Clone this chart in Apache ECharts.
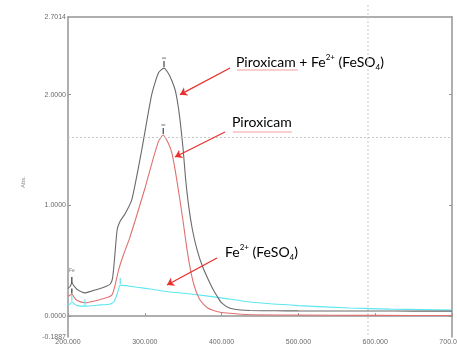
<!DOCTYPE html>
<html><head><meta charset="utf-8">
<script src="https://cdn.jsdelivr.net/npm/echarts@6/dist/echarts.min.js"></script>
<style>html,body{margin:0;padding:0;background:#fff}#c{width:457px;height:350px}</style>
</head><body><div id="c"></div>
<script>
// Wavelength (nm) / absorbance data
const wlMix = [200,203,205,208,212,222,230,240,250,255,258,261,264,268,274,283,296,309,318,325,330,335,340,345,350,353,357,362,368,375,382,389,395,400,411,425,437,470,500,550,600,650,700];
const absMix = [0.25,0.27,0.30,0.27,0.24,0.21,0.225,0.245,0.27,0.29,0.34,0.55,0.78,0.86,0.92,1.05,1.5,2.0,2.2,2.24,2.2,2.13,2.03,1.82,1.5,1.25,1.0,0.78,0.6,0.45,0.34,0.24,0.17,0.12,0.07,0.055,0.05,0.048,0.047,0.046,0.046,0.045,0.045];
const wlPir = [200,203,205,208,212,222,230,240,250,255,258,262,266,272,280,290,300,310,318,324,330,335,340,345,350,355,360,365,372,382,395,407,430,500,600,700];
const absPir = [0.18,0.19,0.20,0.17,0.14,0.12,0.13,0.145,0.165,0.18,0.2,0.3,0.42,0.55,0.7,0.92,1.15,1.4,1.58,1.636,1.57,1.48,1.3,1.08,0.85,0.6,0.4,0.26,0.145,0.073,0.04,0.028,0.015,0.01,0.007,0.005];
const wlFe = [200,203,205,208,212,222,240,255,260,264,268,275,290,307,330,360,400,437,500,567,620,700];
const absFe = [0.10,0.11,0.13,0.11,0.095,0.09,0.10,0.11,0.13,0.2,0.28,0.275,0.26,0.245,0.22,0.2,0.165,0.127,0.095,0.073,0.063,0.054];

const yMin = -0.1887, yMax = 2.7014;
const yTickLabels = [-0.1887, 0, 1, 2, 2.7014];
const yTicks = [0, 1, 2];
const xMin = 200, xMax = 700, xStep = 100;

// peak markers [wavelength, absorbance]
const peakMix = [325, 2.24];
const peakPir = [324, 1.636];
const smallPeaks = [[205, 0.30], [205, 0.20]];
const fePeaks = [[205, 0.13], [222, 0.09], [268, 0.28]];
const crossX = 590.6, crossY = 1.6176;

// arrows [tail, head]
const arrows = [
  [[411, 2.241], [345.8, 2.0]],
  [[404.4, 1.663], [339.3, 1.437]],
  [[394, 0.525], [328.9, 0.281]]
];

const zip = (a, b) => a.map((v, i) => [v, b[i]]);
const chart = echarts.init(document.getElementById('c'), null, {renderer: 'canvas'});
const axisCol = '#959595';
const lblStyle = {color: '#6a6a6a', fontSize: 7, fontFamily: 'Liberation Sans'};

function tickMarks(pts, color, h, off, barW) {
  const out = [];
  pts.forEach(p => {
    out.push({coord: p, symbol: 'rect', symbolSize: [1.2, h], symbolOffset: [0, -off], itemStyle: {color: color}});
    if (barW) out.push({coord: p, symbol: 'rect', symbolSize: [barW, 1.2], symbolOffset: [0, -off - h / 2 - 3], itemStyle: {color: '#888'}});
  });
  return out;
}

const annotFont = 'Lato';
const rich = {
  n: {fontSize: 14, fontFamily: annotFont, color: '#1a1a1a', lineHeight: 18},
  sup: {fontSize: 8, fontFamily: annotFont, color: '#1a1a1a', lineHeight: 8, verticalAlign: 'top'},
  sub: {fontSize: 8, fontFamily: annotFont, color: '#1a1a1a', lineHeight: 8, verticalAlign: 'bottom'}
};

chart.setOption({
  animation: false,
  grid: {left: 68, right: 5, top: 17, bottom: 13, outerBoundsMode: 'none', containLabel: false},
  xAxis: [{
    type: 'value', min: xMin, max: xMax, interval: xStep,
    name: 'nm', nameLocation: 'middle', nameGap: 16, nameTextStyle: {color: '#888', fontSize: 6},
    axisLine: {lineStyle: {color: axisCol, width: 1.5}},
    axisTick: {inside: true, length: 3, lineStyle: {color: axisCol}},
    axisLabel: Object.assign({margin: 2, formatter: v => v.toFixed(3)}, lblStyle),
    splitLine: {show: false}
  }, {
    type: 'value', position: 'top', min: xMin, max: xMax,
    axisLine: {show: true, onZero: false, lineStyle: {color: axisCol, width: 1.5}},
    axisTick: {show: false}, axisLabel: {show: false}, splitLine: {show: false}
  }],
  yAxis: [{
    type: 'value', min: yMin, max: yMax,
    name: 'Abs.', nameLocation: 'middle', nameGap: 42, nameRotate: 90,
    nameTextStyle: {color: '#888', fontSize: 6, padding: [0, 10, 0, 0]},
    axisLine: {show: true, onZero: false, lineStyle: {color: axisCol, width: 1.5}},
    axisTick: {show: true, inside: true, length: 3, customValues: yTicks, lineStyle: {color: axisCol}},
    axisLabel: Object.assign({margin: 2, customValues: yTickLabels, formatter: v => v.toFixed(4)}, lblStyle),
    splitLine: {show: false}
  }, {
    type: 'value', position: 'right', min: yMin, max: yMax,
    axisLine: {show: true, onZero: false, lineStyle: {color: axisCol, width: 1.5}},
    axisTick: {show: true, inside: true, length: 3, customValues: yTicks, lineStyle: {color: axisCol}},
    axisLabel: {show: false}, splitLine: {show: false}
  }],
  series: [{
    name: 'Fe2+ (FeSO4)', type: 'line', data: zip(wlFe, absFe), showSymbol: false, smooth: 0.15,
    lineStyle: {color: '#5ee6f0', width: 1.1}, z: 2,
    markPoint: {silent: true, label: {show: false}, data: tickMarks(fePeaks, '#5ee6f0', 6, 4, 0)},
    markLine: {
      silent: true, symbol: 'none', label: {show: false},
      lineStyle: {color: '#c8c8c8', type: [2, 2], width: 1},
      data: [[{coord: [xMin, crossY]}, {coord: [xMax, crossY]}]]
    }
  }, {
    name: 'Piroxicam', type: 'line', data: zip(wlPir, absPir), showSymbol: false, smooth: 0.2,
    lineStyle: {color: '#e07070', width: 1.1}, z: 3,
    markPoint: {silent: true, label: {show: false},
      data: tickMarks([peakPir], '#444', 6, 4, 4).concat(tickMarks([smallPeaks[1]], '#333', 5, 3, 0))}
  }, {
    name: 'Piroxicam + Fe2+ (FeSO4)', type: 'line', data: zip(wlMix, absMix), showSymbol: false, smooth: 0.2,
    lineStyle: {color: '#6a6a6a', width: 1.1}, z: 4,
    markPoint: {silent: true, label: {show: false},
      data: tickMarks([peakMix], '#444', 6, 4, 4).concat(tickMarks([smallPeaks[0]], '#333', 6, 3, 0))},
    markLine: {
      silent: true, symbol: ['none', 'arrow'], symbolSize: [7, 7], label: {show: false},
      lineStyle: {color: '#e8302c', type: 'solid', width: 1.3},
      data: arrows.map(a => [{coord: a[0]}, {coord: a[1]}])
    }
  }],
  graphic: [
    {id: 't1', type: 'text', left: 236, top: 53, style: {text: '{n|Piroxicam + Fe}{sup|2+}{n| (FeSO}{sub|4}{n|)}', rich: rich}},
    {id: 't2', type: 'text', left: 232, top: 115, style: {text: '{n|Piroxicam}', rich: rich}},
    {id: 't3', type: 'text', left: 225, top: 243, style: {text: '{n|Fe}{sup|2+}{n| (FeSO}{sub|4}{n|)}', rich: rich}},
    {id: 'u1', type: 'line', shape: {x1: 237, y1: 70, x2: 298, y2: 70}, style: {stroke: '#e88', lineWidth: 0.8}},
    {id: 'u2', type: 'line', shape: {x1: 233, y1: 132, x2: 292, y2: 132}, style: {stroke: '#e88', lineWidth: 0.8}},
    {id: 'fe', type: 'text', left: 69, top: 268, style: {text: 'Fe', fontSize: 5, fill: '#777', fontFamily: 'Liberation Sans'}}
  ]
});

// vertical crosshair (extends slightly above the frame, as in the source)
const px = chart.convertToPixel({xAxisIndex: 0}, crossX);
const pyBottom = chart.convertToPixel({yAxisIndex: 0}, yMin);
chart.setOption({graphic: [
  {id: 'vline', type: 'line', shape: {x1: px, y1: 5, x2: px, y2: pyBottom}, style: {stroke: '#c8c8c8', lineWidth: 1, lineDash: [2, 2]}, z: 1}
]});
</script>
</body></html>
